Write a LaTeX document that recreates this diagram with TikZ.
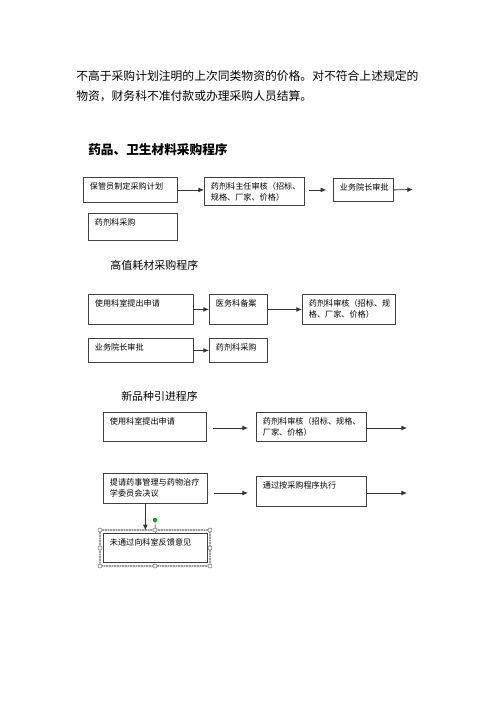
\documentclass[tikz,border=0pt]{standalone}
\usepackage{fontspec}
\setmainfont{Noto Sans CJK SC}
\usepackage{tikz}
\usetikzlibrary{arrows.meta}

\begin{document}
\begin{tikzpicture}[x=0.75pt,y=-0.75pt,
  box/.style={draw=black!75,line width=0.6pt,anchor=north west,inner sep=0pt},
  txt/.style={anchor=north west,align=left,inner sep=0pt,xshift=5pt,yshift=-4pt,font=\fontsize{6.1pt}{8pt}\selectfont},
  head/.style={anchor=west,inner sep=0pt},
  arrow/.style={-{Latex[length=4.2pt,width=3.6pt]},line width=0.6pt,black!80},
  handle/.style={circle,draw=black!55,fill=white,inner sep=0pt,minimum size=3pt}
]
\useasboundingbox (0,0) rectangle (500,707);

\node[head,align=left,font=\fontsize{8.85pt}{15pt}\selectfont] (intro) at (76,86)
  {不高于采购计划注明的上次同类物资的价格。对不符合上述规定的\\物资，财务科不准付款或办理采购人员结算。};

% 药品、卫生材料
\node[head,font=\fontsize{9.5pt}{11pt}\selectfont\bfseries] (title1) at (88,150) {药品、卫生材料采购程序};
\node[box,minimum width=70.5pt,minimum height=18.75pt,label={[txt]north west:保管员制定采购计划}] (plan) at (83,177) {};
\node[box,minimum width=75pt,minimum height=21pt,label={[txt]north west:药剂科主任审核（招标、\\规格、厂家、价格）}] (review) at (204,177) {};
\node[box,minimum width=45pt,minimum height=17.25pt,label={[txt]north west:业务院长审批}] (approve) at (333,178) {};
\node[box,minimum width=66.75pt,minimum height=20.25pt,label={[txt]north west:药剂科采购}] (buy1) at (88,213) {};
\coordinate (end1) at (413,189.5);
\draw[arrow] (plan.east) -- (plan.east -| review.west);
\draw[arrow,shorten <=3pt,shorten >=5pt] (approve.west -| review.east) -- (approve.west);
\draw[arrow] (approve.east) -- (end1);

% 高值耗材
\node[head,font=\fontsize{8.25pt}{10pt}\selectfont] (title2) at (110,265) {高值耗材采购程序};
\node[box,minimum width=78.75pt,minimum height=22.5pt,label={[txt]north west:使用科室提出申请}] (apply2) at (88,294) {};
\node[box,minimum width=43.5pt,minimum height=22.5pt,label={[txt]north west:医务科备案}] (record) at (209,294) {};
\node[box,minimum width=69.75pt,minimum height=22.5pt,label={[txt]north west:药剂科审核（招标、规\\格、厂家、价格）}] (check2) at (302,294) {};
\node[box,minimum width=78.75pt,minimum height=18pt,label={[txt]north west:业务院长审批}] (approve2) at (88,338) {};
\node[box,minimum width=43.5pt,minimum height=18pt,label={[txt]north west:药剂科采购}] (buy2) at (209,338) {};
\draw[arrow] (apply2) -- (record);
\draw[arrow] (record) -- (check2);
\draw[arrow] (approve2) -- (buy2);

% 新品种
\node[head,font=\fontsize{8.2pt}{10pt}\selectfont] (title3) at (121,396) {新品种引进程序};
\node[box,minimum width=77.25pt,minimum height=21.75pt,label={[txt]north west:使用科室提出申请}] (apply3) at (103,412) {};
\node[box,minimum width=82.5pt,minimum height=21.75pt,label={[txt]north west:药剂科审核（招标、规格、\\厂家、价格）}] (check3) at (256,412) {};
\node[box,minimum width=78pt,minimum height=22.5pt,label={[txt]north west:提请药事管理与药物治疗\\学委员会决议}] (submit) at (103,473) {};
\node[box,minimum width=82.5pt,minimum height=22.5pt,label={[txt]north west:通过按采购程序执行}] (execute) at (256,476) {};
\node[box,minimum width=78pt,minimum height=21.75pt,label={[txt]north west:未通过向科室反馈意见}] (feedback) at (103,533) {};
\coordinate (end2) at (407,428);
\coordinate (end3) at (407,493);
\draw[arrow,shorten <=5pt,shorten >=6pt] (apply3.east |- end2) -- (check3.west |- end2);
\draw[arrow] (check3.east |- end2) -- (end2);
\draw[arrow,shorten <=5pt,shorten >=6pt] (submit.east |- end3) -- (execute.west |- end3);
\draw[arrow] (execute.east |- end3) -- (end3);

% selection frame
\draw[line width=2pt,gray!35] (100,530) rectangle (210,566);
\draw[line width=2pt,gray!75,dash pattern=on 0.6pt off 0.6pt] (100,530) rectangle (210,566);
\coordinate (rot) at (155,520);
\draw[line width=0.5pt,black!60] (rot) -- (feedback.north);
\draw[arrow] ([xshift=-7.5pt]submit.south) -- ([xshift=-7.5pt,yshift=2pt]feedback.north);
\foreach \hx/\hy in {100/530,155/530,210/530,100/548,210/548,100/566,155/566,210/566}
  \node[handle] at (\hx,\hy) {};
\fill[green!65!black] (rot) circle (1.6pt);
\end{tikzpicture}
\end{document}
